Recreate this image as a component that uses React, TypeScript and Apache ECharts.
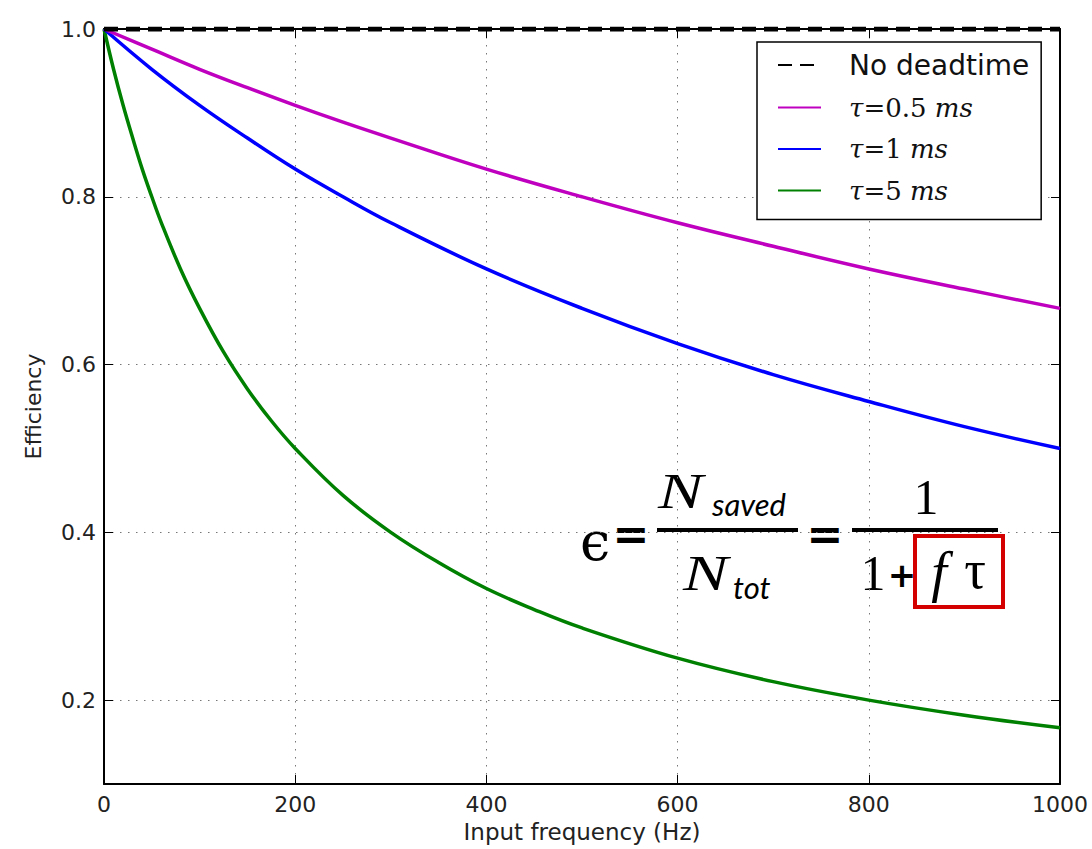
import React, { useEffect, useRef } from "react";
import * as echarts from "echarts";

// Input frequency samples (Hz)
const freqFine = [0, 10, 20, 30, 40, 50, 60, 80, 100, 125, 150, 175, 200, 250, 300, 350, 400, 450, 500, 600, 700, 800, 900, 1000];
const freqCoarse = [0, 50, 100, 150, 200, 250, 300, 400, 500, 600, 700, 800, 900, 1000];
const freqFlat = [0, 1000];

// Efficiency values
const effTau5 = [1.0, 0.952, 0.909, 0.87, 0.833, 0.8, 0.769, 0.714, 0.667, 0.615, 0.571, 0.533, 0.5, 0.444, 0.4, 0.364, 0.333, 0.308, 0.286, 0.25, 0.222, 0.2, 0.182, 0.167];
const effTau1 = [1.0, 0.952, 0.909, 0.87, 0.833, 0.8, 0.769, 0.714, 0.667, 0.625, 0.588, 0.556, 0.526, 0.5];
const effTau05 = [1.0, 0.976, 0.952, 0.93, 0.909, 0.889, 0.87, 0.833, 0.8, 0.769, 0.741, 0.714, 0.69, 0.667];
const effNoDead = [1.0, 1.0];

const yTicks = [0.2, 0.4, 0.6, 0.8, 1.0];
const seriesNames = ["No deadtime", "τ=0.5 ms", "τ=1 ms", "τ=5 ms"];

const zip = (xs: number[], ys: number[]) => xs.map((x, i) => [x, ys[i]]);

export default function App() {
  const ref = useRef<HTMLDivElement>(null);
  useEffect(() => {
    document.body.style.margin = "0";
    if (!ref.current) return;
    const chart = echarts.init(ref.current, undefined, { renderer: "svg" });
    const axisFont = { fontFamily: "DejaVu Sans", color: "#222" };
    const gridLine = { show: true, lineStyle: { color: "#777", width: 1, type: [1.5, 6.5] as any } };
    const lineSeries = (name: string, data: number[][], color: string) => ({
      name,
      type: "line",
      data,
      showSymbol: false,
      symbol: "none",
      smooth: 0.4,
      lineStyle: { color, width: 3.5 },
      itemStyle: { color },
    });
    const option: any = {
      animation: false,
      backgroundColor: "#fff",
      grid: { left: 104, right: 32, top: 29, bottom: 65 },
      xAxis: [
        {
          type: "value",
          min: 0,
          max: 1000,
          interval: 200,
          name: "Input frequency (Hz)",
          nameLocation: "middle",
          nameGap: 36,
          nameTextStyle: { ...axisFont, fontSize: 23 },
          axisLine: { onZero: false, lineStyle: { color: "#000", width: 2 } },
          axisTick: { inside: true, length: 9, lineStyle: { color: "#000", width: 1 } },
          axisLabel: { ...axisFont, fontSize: 22, margin: 9, formatter: (v: number) => String(v) },
          splitLine: gridLine,
        },
        {
          type: "value",
          position: "top",
          min: 0,
          max: 1000,
          interval: 200,
          axisLine: { onZero: false, lineStyle: { color: "#000", width: 2 } },
          axisTick: { inside: true, length: 9, lineStyle: { color: "#000", width: 1 } },
          axisLabel: { show: false },
          splitLine: { show: false },
        },
      ],
      yAxis: [
        {
          type: "value",
          min: 0.1,
          max: 1.0,
          interval: 0.1,
          name: "Efficiency",
          nameLocation: "middle",
          nameGap: 60,
          nameTextStyle: { ...axisFont, fontSize: 22 },
          axisLine: { onZero: false, lineStyle: { color: "#000", width: 2 } },
          axisTick: { inside: true, length: 9, customValues: yTicks, lineStyle: { color: "#000", width: 1 } },
          axisLabel: { ...axisFont, fontSize: 22, margin: 8, customValues: yTicks, formatter: (v: number) => v.toFixed(1) },
          splitLine: gridLine,
        },
        {
          type: "value",
          position: "right",
          min: 0.1,
          max: 1.0,
          interval: 0.1,
          axisLine: { onZero: false, lineStyle: { color: "#000", width: 2 } },
          axisTick: { inside: true, length: 9, customValues: yTicks, lineStyle: { color: "#000", width: 1 } },
          axisLabel: { show: false, customValues: yTicks },
          splitLine: { show: false },
        },
      ],
      legend: {
        orient: "vertical",
        left: 757,
        top: 42,
        data: seriesNames,
        backgroundColor: "#fff",
        borderColor: "#000",
        borderWidth: 1.5,
        borderRadius: 0,
        padding: [9, 12, 16, 20],
        itemWidth: 43,
        itemHeight: 1,
        itemGap: 15.5,
        itemStyle: { opacity: 0 },
        formatter: (name: string) => {
          if (name === "No deadtime") return `{s|${name}}`;
          const m = name.match(/^τ(=[\d.]+ )ms$/);
          if (!m) return name;
          return `{t|τ}{r|${m[1]}}{i|ms}`;
        },
        textStyle: {
          color: "#000",
          rich: {
            s: { fontFamily: "DejaVu Sans", fontSize: 28, lineHeight: 28, padding: [0, 0, 0, 23], color: "#111" },
            t: { fontFamily: "DejaVu Serif", fontStyle: "italic", fontSize: 26, lineHeight: 28, padding: [0, 0, 0, 23], color: "#111" },
            r: { fontFamily: "DejaVu Serif", fontSize: 26, lineHeight: 28, color: "#111" },
            i: { fontFamily: "DejaVu Serif", fontStyle: "italic", fontSize: 26, lineHeight: 28, color: "#111" },
          },
        },
      },
      series: [
        lineSeries("τ=5 ms", zip(freqFine, effTau5), "#008000"),
        lineSeries("τ=1 ms", zip(freqCoarse, effTau1), "#0000ff"),
        lineSeries("τ=0.5 ms", zip(freqCoarse, effTau05), "#bf00bf"),
        {
          name: "No deadtime",
          type: "line",
          data: zip(freqFlat, effNoDead),
          showSymbol: false,
          symbol: "none",
          z: 5,
          lineStyle: { color: "#000", width: 5, type: [14, 8] },
          itemStyle: { color: "#000" },
        },
      ],
      graphic: [
        { type: "text", x: 580, y: 541, style: { text: "ϵ", fontFamily: "DejaVu Serif", fontSize: 54, fill: "#000", align: "left", verticalAlign: "middle" } },
        { type: "text", x: 631, y: 533, style: { text: "=", fontFamily: "DejaVu Sans", fontWeight: "bold", fontSize: 44, fill: "#000", align: "center", verticalAlign: "middle" } },
        { type: "rect", shape: { x: 657, y: 528, width: 141, height: 4 }, style: { fill: "#000" } },
        { type: "text", x: 658, y: 491, scaleX: 1.35, style: { text: "N", fontFamily: "Liberation Serif", fontStyle: "italic", fontSize: 50, fill: "#000", align: "left", verticalAlign: "middle" } },
        { type: "text", x: 712, y: 504, style: { text: "saved", fontFamily: "Lato", fontStyle: "italic", fontSize: 31, fill: "#000", align: "left", verticalAlign: "middle" } },
        { type: "text", x: 683, y: 573, scaleX: 1.35, style: { text: "N", fontFamily: "Liberation Serif", fontStyle: "italic", fontSize: 50, fill: "#000", align: "left", verticalAlign: "middle" } },
        { type: "text", x: 733, y: 587, style: { text: "tot", fontFamily: "Lato", fontStyle: "italic", fontSize: 31, fill: "#000", align: "left", verticalAlign: "middle" } },
        { type: "text", x: 825, y: 533, style: { text: "=", fontFamily: "DejaVu Sans", fontWeight: "bold", fontSize: 44, fill: "#000", align: "center", verticalAlign: "middle" } },
        { type: "rect", shape: { x: 852, y: 528, width: 146, height: 4 }, style: { fill: "#000" } },
        { type: "text", x: 926, y: 497, style: { text: "1", fontFamily: "Liberation Serif", fontSize: 50, fill: "#000", align: "center", verticalAlign: "middle" } },
        { type: "text", x: 873, y: 573, style: { text: "1", fontFamily: "Liberation Serif", fontSize: 50, fill: "#000", align: "center", verticalAlign: "middle" } },
        { type: "text", x: 902, y: 575, style: { text: "+", fontFamily: "DejaVu Sans", fontWeight: "bold", fontSize: 34, fill: "#000", align: "center", verticalAlign: "middle" } },
        { type: "rect", shape: { x: 915, y: 536, width: 88, height: 71 }, style: { fill: "none", stroke: "#d40000", lineWidth: 4 } },
        { type: "text", x: 939, y: 572, style: { text: "f", fontFamily: "Liberation Serif", fontStyle: "italic", fontSize: 56, fill: "#000", align: "center", verticalAlign: "middle" } },
        { type: "text", x: 975, y: 570, style: { text: "τ", fontFamily: "Liberation Serif", fontSize: 54, fill: "#000", align: "center", verticalAlign: "middle" } },
      ],
    };
    chart.setOption(option);
    return () => chart.dispose();
  }, []);
  return <div ref={ref} style={{ width: 1092, height: 849 }} />;
}
